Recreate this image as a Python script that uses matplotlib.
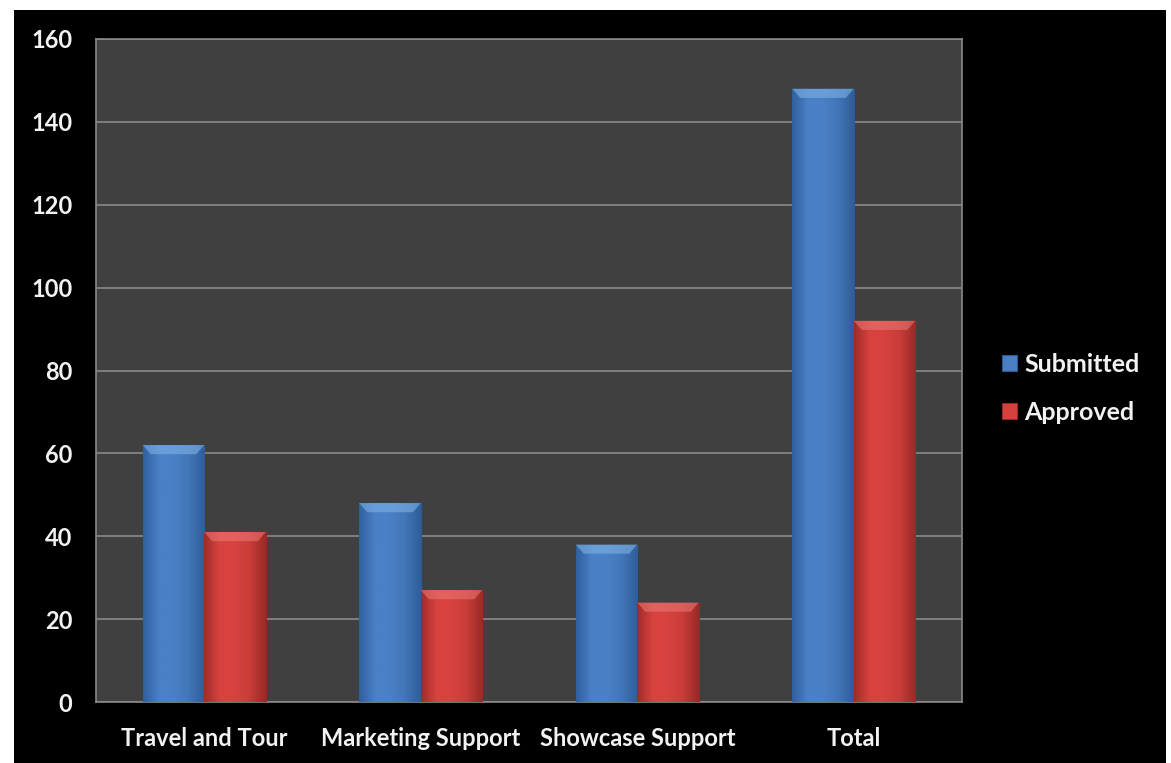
import matplotlib
matplotlib.use("Agg")
import matplotlib.pyplot as plt
import numpy as np
from matplotlib.patches import Rectangle, Polygon
from matplotlib.colors import LinearSegmentedColormap

categories = ["Travel and Tour", "Marketing Support", "Showcase Support", "Total"]
submitted = [62, 48, 38, 148]
approved = [41, 27, 24, 92]
series_names = ["Submitted", "Approved"]
yticks = [0, 20, 40, 60, 80, 100, 120, 140, 160]

FONT = ["Lato", "DejaVu Sans"]
plt.rcParams['font.family'] = FONT
plt.rcParams['font.weight'] = 'bold'

fig = plt.figure(figsize=(11.71, 7.63), dpi=100, facecolor="white")
fig.patches.append(Rectangle((14/1171, 0), (1166-14)/1171, (763-10)/763,
                             transform=fig.transFigure, facecolor="black",
                             edgecolor="none", zorder=-10))

ax = fig.add_axes([96/1171, 61/763, (962-96)/1171, (702-39)/763])
ax.set_facecolor("#404040")

x = np.arange(len(categories))
w = 0.284
blue_cmap = LinearSegmentedColormap.from_list("b", ["#30609f", "#4a80c6", "#4b80c5", "#4276b8", "#2f5e9a"])
red_cmap = LinearSegmentedColormap.from_list("r", ["#a02c2a", "#d8433f", "#d7423f", "#c83c39", "#9a2a28"])

b1 = ax.bar(x - w/2, submitted, w, color="#4a7fc4", edgecolor="#2d5a96", linewidth=0.8, zorder=3, label=series_names[0])
b2 = ax.bar(x + w/2, approved, w, color="#d6413e", edgecolor="#962826", linewidth=0.8, zorder=3, label=series_names[1])

grad = np.linspace(0, 1, 64).reshape(1, -1)
for bars, cmap, top in ((b1, blue_cmap, "#7fb2e6"), (b2, red_cmap, "#ea7572")):
    for p in bars:
        x0, y0 = p.get_x(), p.get_y()
        pw, ph = p.get_width(), p.get_height()
        im = ax.imshow(grad, cmap=cmap, aspect="auto", extent=[x0, x0 + pw, y0, y0 + ph],
                       zorder=3.5, interpolation="bicubic")
        im.set_clip_path(p)
        bev = 2.2
        dx = pw * 0.13
        poly = Polygon([[x0, y0 + ph], [x0 + pw, y0 + ph], [x0 + pw - dx, y0 + ph - bev],
                        [x0 + dx, y0 + ph - bev]], closed=True, facecolor=top,
                       edgecolor="none", alpha=0.6, zorder=3.6)
        ax.add_patch(poly)

ax.set_xlim(-0.5, len(categories) - 0.5)
ax.set_ylim(0, 160)
ax.set_yticks(yticks)
ax.set_xticks(x)
ax.set_xticklabels(categories)
ax.yaxis.grid(True, color="#8a8a8a", linewidth=1.2, zorder=0)
ax.set_axisbelow(True)
ax.tick_params(axis="both", length=0, colors="#f2f2f2", labelsize=17)
ax.tick_params(axis="y", pad=17)
ax.tick_params(axis="x", pad=18)
for lab in ax.get_xticklabels() + ax.get_yticklabels():
    lab.set_fontweight("bold")
for s in ["left", "bottom", "top", "right"]:
    ax.spines[s].set_color("#8a8a8a")
    ax.spines[s].set_linewidth(1.2)

leg = fig.legend(handles=[b1, b2], labels=series_names, loc="center left",
                 bbox_to_anchor=(979/1171, (763-388)/763), frameon=False,
                 handlelength=0.6, handleheight=0.6, labelspacing=1.0,
                 handletextpad=0.3, prop={"weight": "bold", "size": 18, "family": FONT})
for t in leg.get_texts():
    t.set_color("#f2f2f2")

fig.savefig("out.png", dpi=100, facecolor=fig.get_facecolor())
